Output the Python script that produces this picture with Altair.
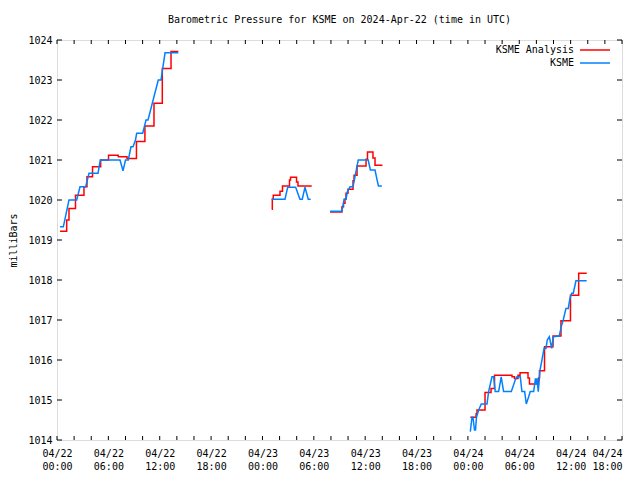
import altair as alt
import pandas as pd

# ---------------- data (hours after 2024-04-22 00:00 UTC, milliBars) ----------------
title_text = "Barometric Pressure for KSME on 2024-Apr-22 (time in UTC)"
series_names = ["KSME Analysis", "KSME"]
series_colors = ["#ff0000", "#0080ff"]

red_h = [
    [0.35, 1.13, 1.40, 2.16, 3.15, 3.50, 4.15, 5.10, 6.02, 7.16, 8.18, 9.28, 10.27, 11.33, 12.30, 13.32, 14.17],
    [25.08, 25.15, 25.26, 26.05, 26.34, 27.16, 27.28, 27.98, 28.15, 29.67],
    [31.89, 33.29, 33.47, 33.64, 33.76, 33.99, 34.58, 34.70, 35.05, 36.10, 36.27, 36.91, 37.15, 38.02],
    [48.28, 48.95, 49.06, 50.00, 50.70, 51.11, 53.15, 53.44, 53.85, 54.09, 55.02, 55.19, 56.25, 56.36,
     56.95, 57.94, 58.87, 59.98, 60.94, 61.88],
]
red_v = [
    [1019.22, 1019.50, 1019.79, 1020.12, 1020.33, 1020.58, 1020.83, 1021.00, 1021.12, 1021.08, 1021.04,
     1021.46, 1021.85, 1022.42, 1023.29, 1023.71, 1023.71],
    [1019.77, 1020.02, 1020.12, 1020.22, 1020.35, 1020.50, 1020.57, 1020.45, 1020.35, 1020.37],
    [1019.70, 1019.83, 1019.92, 1020.02, 1020.17, 1020.27, 1020.48, 1020.62, 1020.85, 1021.02, 1021.20,
     1021.05, 1020.87, 1020.87],
    [1014.57, 1014.65, 1014.75, 1015.19, 1015.29, 1015.62, 1015.58, 1015.54, 1015.62, 1015.68, 1015.55,
     1015.40, 1015.55, 1015.73, 1016.33, 1016.60, 1016.98, 1017.62, 1018.17, 1018.17],
]

blue_h = [
    [0.35, 0.74, 1.40, 2.30, 2.69, 3.35, 3.74, 4.79, 5.06, 7.36, 7.71, 8.00, 8.33, 8.64, 8.88, 9.17, 9.31,
     10.01, 10.40, 10.63, 11.83, 12.15, 12.62, 14.17],
    [25.08, 26.63, 26.95, 27.88, 28.38, 28.65, 28.97, 29.35, 29.63],
    [31.89, 33.26, 33.41, 33.53, 33.76, 33.91, 34.23, 34.58, 35.19, 36.35, 36.61, 37.15, 37.35, 37.55, 37.95],
    [48.28, 48.48, 48.59, 48.77, 48.89, 49.00, 49.26, 49.56, 50.23, 50.42, 50.81, 51.01, 51.19, 51.59, 51.89,
     52.17, 53.07, 53.53, 53.73, 54.12, 54.31, 54.63, 54.82, 55.10, 55.28, 55.68, 55.89, 56.01, 56.07, 56.22,
     56.42, 56.65, 56.89, 57.12, 57.27, 57.51, 57.79, 57.97, 58.67, 58.95, 59.14, 59.45, 59.72, 59.92, 60.12,
     60.31, 60.62, 61.87],
]
blue_v = [
    [1019.33, 1019.33, 1020.00, 1020.00, 1020.33, 1020.33, 1020.67, 1020.67, 1021.00, 1021.00, 1020.73,
     1021.00, 1021.00, 1021.33, 1021.33, 1021.50, 1021.67, 1021.67, 1022.00, 1022.00, 1023.00, 1023.00,
     1023.68, 1023.68],
    [1020.02, 1020.02, 1020.32, 1020.32, 1020.02, 1020.02, 1020.32, 1020.02, 1020.02],
    [1019.72, 1019.72, 1019.85, 1020.02, 1020.02, 1020.20, 1020.33, 1020.33, 1021.00, 1021.00, 1020.75,
     1020.75, 1020.54, 1020.35, 1020.35],
    [1014.21, 1014.57, 1014.57, 1014.25, 1014.25, 1014.57, 1014.75, 1014.90, 1014.90, 1015.21, 1015.58,
     1015.58, 1015.21, 1015.21, 1015.58, 1015.21, 1015.21, 1015.50, 1015.58, 1015.58, 1015.21, 1015.21,
     1014.90, 1015.08, 1015.21, 1015.21, 1015.54, 1015.40, 1015.54, 1015.21, 1015.75, 1016.00, 1016.29,
     1016.29, 1016.50, 1016.58, 1016.29, 1016.58, 1016.60, 1016.87, 1017.00, 1017.29, 1017.29, 1017.54,
     1017.67, 1017.67, 1017.98, 1017.98],
]

y_ticks = list(range(1014, 1025))
x_label_hours = list(range(0, 67, 6))
x_tick_hours = list(range(0, 67, 2))

# ---------------- build tables ----------------
BASE_MS = int(pd.Timestamp("2024-04-22T00:00:00Z").value // 1_000_000)
HOUR_MS = 3_600_000


def to_ms(h):
    return BASE_MS + int(round(h * HOUR_MS))


def make_df(hs, vs, name):
    rows = []
    for i, (hh, vv) in enumerate(zip(hs, vs)):
        for a, b in zip(hh, vv):
            rows.append({"t": to_ms(a), "v": b, "seg": i, "series": name})
    return pd.DataFrame(rows)


red_df = make_df(red_h, red_v, series_names[0])
blue_df = make_df(blue_h, blue_v, series_names[1])
xtick_df = pd.DataFrame({"t": [to_ms(h) for h in x_tick_hours]})
ytick_df = pd.DataFrame({"v": y_ticks})

FONT = "DejaVu Sans Mono"
W, H = 565, 400
LAST_MS = to_ms(66)

xscale = alt.Scale(type="utc", domain=[to_ms(0), LAST_MS], nice=False)
yscale = alt.Scale(domain=[1014, 1024], nice=False, zero=False)

x_axis = alt.Axis(
    values=[to_ms(h) for h in x_label_hours],
    labelExpr="[utcFormat(datum.value, '%m/%d'), utcFormat(datum.value, '%H:%M')]",
    labelAlign={"condition": {"test": f"datum.value >= {LAST_MS}", "value": "right"}, "value": "center"},
    ticks=False, domain=False, grid=False, title=None,
    labelFont=FONT, labelFontSize=10, labelColor="black",
    labelPadding=8, labelLineHeight=13, labelOverlap=False, labelFlush=False,
)
y_axis = alt.Axis(
    values=y_ticks, format="d", ticks=False, domain=False, grid=False,
    title="milliBars", titleFont=FONT, titleFontSize=10, titleFontWeight="normal",
    titleColor="black", titlePadding=9,
    labelFont=FONT, labelFontSize=10, labelColor="black", labelPadding=5,
)

X = alt.X("t:T", scale=xscale, axis=x_axis)
Y = alt.Y("v:Q", scale=yscale, axis=y_axis)

red_line = alt.Chart(red_df).mark_line(
    interpolate="step-after", color=series_colors[0], strokeWidth=1.5
).encode(x=X, y=Y, detail="seg:N")

blue_line = alt.Chart(blue_df).mark_line(
    color=series_colors[1], strokeWidth=1.5
).encode(x=X, y=Y, detail="seg:N")

# inward ticks on all four sides (gnuplot style)
xt_bottom = alt.Chart(xtick_df).mark_rule(color="black", strokeWidth=1).encode(
    x=X, y=alt.value(H - 4), y2=alt.value(H))
xt_top = alt.Chart(xtick_df).mark_rule(color="black", strokeWidth=1).encode(
    x=X, y=alt.value(0), y2=alt.value(4))
yt_left = alt.Chart(ytick_df).mark_rule(color="black", strokeWidth=1).encode(
    y=Y, x=alt.value(0), x2=alt.value(5))
yt_right = alt.Chart(ytick_df).mark_rule(color="black", strokeWidth=1).encode(
    y=Y, x=alt.value(W - 5), x2=alt.value(W))

# gnuplot-style key: label then sample line, top right
key_layers = []
for i, (name, col) in enumerate(zip(series_names, series_colors)):
    ypos = 10 + 13 * i
    kdf = pd.DataFrame({"label": [name]})
    key_layers.append(
        alt.Chart(kdf).mark_text(align="right", baseline="middle", font=FONT, fontSize=10, color="black")
        .encode(text="label:N", x=alt.value(517), y=alt.value(ypos))
    )
    key_layers.append(
        alt.Chart(kdf).mark_rule(color=col, strokeWidth=1.5)
        .encode(x=alt.value(523), x2=alt.value(553), y=alt.value(ypos))
    )

chart = alt.layer(
    red_line, blue_line, xt_bottom, xt_top, yt_left, yt_right, *key_layers
).properties(
    width=W, height=H,
    title=alt.TitleParams(title_text, font=FONT, fontSize=10, fontWeight="normal",
                          color="black", anchor="middle", offset=10),
    autosize=alt.AutoSizeParams(type="none"),
    padding={"left": 49, "top": 32, "right": 10, "bottom": 32},
).configure_view(stroke="black", strokeWidth=1).configure(background="white")

chart.save("out.html", embed_options={"renderer": "svg", "actions": False})
